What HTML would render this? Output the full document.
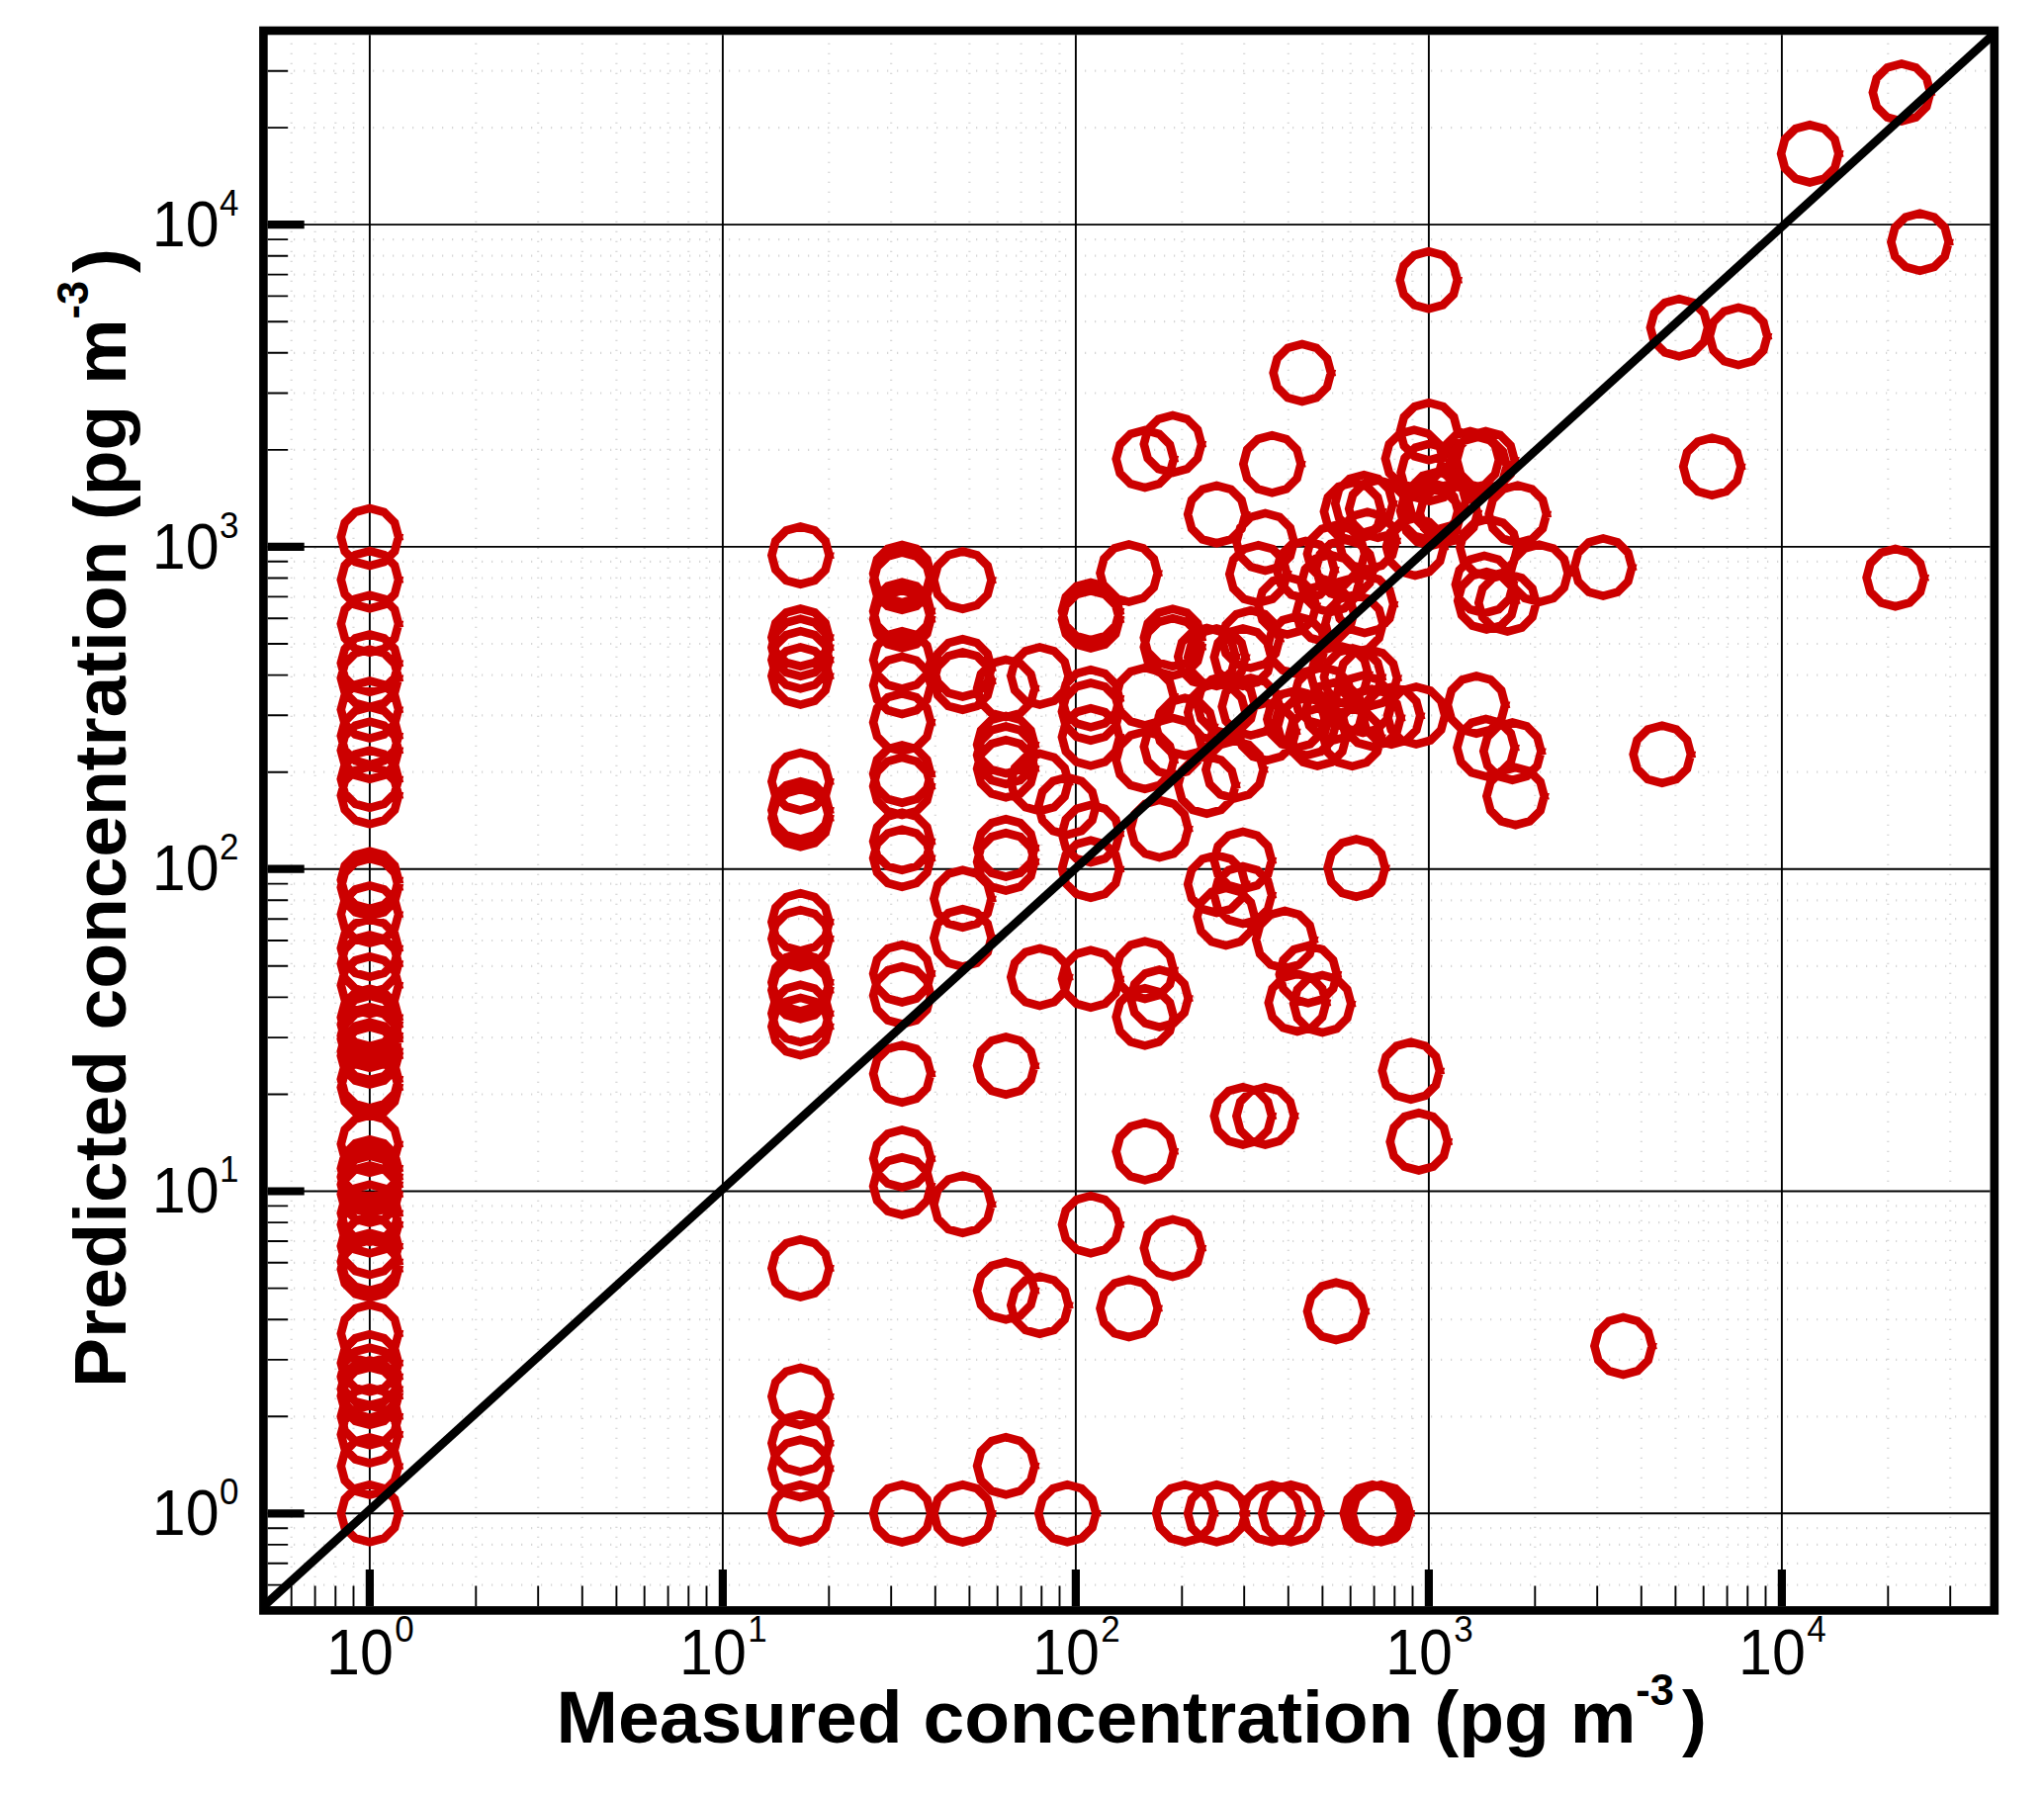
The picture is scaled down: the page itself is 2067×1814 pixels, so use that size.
<!DOCTYPE html>
<html><head><meta charset="utf-8"><title>Measured vs predicted concentration</title>
<style>html,body{margin:0;padding:0;background:#fff}body{width:2067px;height:1814px;overflow:hidden}</style></head>
<body>
<svg width="2067" height="1814" viewBox="0 0 2067 1814" style="display:block">
<rect width="2067" height="1814" fill="#fff"/>
<path d="M294.7 43.8V1602.1M297.2 1602.6H2008.5M318.6 43.8V1602.1M297.2 1580.8H2008.5M339.3 43.8V1602.1M297.2 1561.9H2008.5M357.5 43.8V1602.1M297.2 1545.2H2008.5M481.3 43.8V1602.1M297.2 1432.3H2008.5M544.2 43.8V1602.1M297.2 1374.9H2008.5M588.8 43.8V1602.1M297.2 1334.2H2008.5M623.4 43.8V1602.1M297.2 1302.6H2008.5M651.7 43.8V1602.1M297.2 1276.8H2008.5M675.6 43.8V1602.1M297.2 1255.0H2008.5M696.3 43.8V1602.1M297.2 1236.1H2008.5M714.5 43.8V1602.1M297.2 1219.4H2008.5M838.3 43.8V1602.1M297.2 1106.5H2008.5M901.2 43.8V1602.1M297.2 1049.1H2008.5M945.8 43.8V1602.1M297.2 1008.4H2008.5M980.4 43.8V1602.1M297.2 976.8H2008.5M1008.7 43.8V1602.1M297.2 951.0H2008.5M1032.6 43.8V1602.1M297.2 929.2H2008.5M1053.3 43.8V1602.1M297.2 910.3H2008.5M1071.5 43.8V1602.1M297.2 893.6H2008.5M1195.3 43.8V1602.1M297.2 780.7H2008.5M1258.2 43.8V1602.1M297.2 723.3H2008.5M1302.8 43.8V1602.1M297.2 682.6H2008.5M1337.4 43.8V1602.1M297.2 651.0H2008.5M1365.7 43.8V1602.1M297.2 625.2H2008.5M1389.6 43.8V1602.1M297.2 603.4H2008.5M1410.3 43.8V1602.1M297.2 584.5H2008.5M1428.5 43.8V1602.1M297.2 567.8H2008.5M1552.3 43.8V1602.1M297.2 454.9H2008.5M1615.2 43.8V1602.1M297.2 397.5H2008.5M1659.8 43.8V1602.1M297.2 356.8H2008.5M1694.4 43.8V1602.1M297.2 325.2H2008.5M1722.7 43.8V1602.1M297.2 299.4H2008.5M1746.6 43.8V1602.1M297.2 277.6H2008.5M1767.3 43.8V1602.1M297.2 258.7H2008.5M1785.5 43.8V1602.1M297.2 242.1H2008.5M1909.3 43.8V1602.1M297.2 129.1H2008.5M1972.2 43.8V1602.1M297.2 71.7H2008.5" stroke="#cdcdcd" stroke-width="2.2" stroke-dasharray="1 9" fill="none"/>
<path d="M373.9 35.3V1624.1M270.7 1530.3H2012.5M730.9 35.3V1624.1M270.7 1204.5H2012.5M1087.9 35.3V1624.1M270.7 878.7H2012.5M1444.9 35.3V1624.1M270.7 552.9H2012.5M1801.9 35.3V1624.1M270.7 227.1H2012.5" stroke="#000" stroke-width="1.9" fill="none"/>
<g fill="none" stroke="#cc0000" stroke-width="8.6" stroke-linejoin="miter" stroke-linecap="square">
<path d="M403.0,543.0L399.1,528.5L388.4,517.8L373.9,513.9L359.3,517.8L348.7,528.5L344.8,543.0L348.7,557.5L359.3,568.2L373.9,572.1L388.4,568.2L399.1,557.6L403.0,543.0M403.0,586.2L399.1,571.7L388.4,561.0L373.9,557.1L359.3,561.0L348.7,571.7L344.8,586.2L348.7,600.8L359.3,611.4L373.9,615.3L388.4,611.4L399.1,600.8L403.0,586.2M403.0,630.8L399.1,616.2L388.4,605.6L373.9,601.7L359.3,605.6L348.7,616.2L344.8,630.8L348.7,645.3L359.3,656.0L373.9,659.9L388.4,656.0L399.1,645.4L403.0,630.8M403.0,670.6L399.1,656.1L388.4,645.4L373.9,641.5L359.3,645.4L348.7,656.1L344.8,670.6L348.7,685.1L359.3,695.8L373.9,699.7L388.4,695.8L399.1,685.2L403.0,670.6M403.0,685.7L399.1,671.2L388.4,660.5L373.9,656.6L359.3,660.5L348.7,671.2L344.8,685.7L348.7,700.2L359.3,710.9L373.9,714.8L388.4,710.9L399.1,700.3L403.0,685.7M403.0,717.5L399.1,703.0L388.4,692.3L373.9,688.4L359.3,692.3L348.7,703.0L344.8,717.5L348.7,732.0L359.3,742.7L373.9,746.6L388.4,742.7L399.1,732.1L403.0,717.5M403.0,744.0L399.1,729.5L388.4,718.8L373.9,714.9L359.3,718.8L348.7,729.5L344.8,744.0L348.7,758.5L359.3,769.2L373.9,773.1L388.4,769.2L399.1,758.6L403.0,744.0M403.0,758.8L399.1,744.2L388.4,733.6L373.9,729.7L359.3,733.6L348.7,744.2L344.8,758.8L348.7,773.3L359.3,784.0L373.9,787.9L388.4,784.0L399.1,773.4L403.0,758.8M403.0,787.8L399.1,773.2L388.4,762.6L373.9,758.7L359.3,762.6L348.7,773.2L344.8,787.8L348.7,802.3L359.3,813.0L373.9,816.9L388.4,813.0L399.1,802.4L403.0,787.8M403.0,804.3L399.1,789.8L388.4,779.1L373.9,775.2L359.3,779.1L348.7,789.8L344.8,804.3L348.7,818.8L359.3,829.5L373.9,833.4L388.4,829.5L399.1,818.9L403.0,804.3M403.0,889.7L399.1,875.2L388.4,864.5L373.9,860.6L359.3,864.5L348.7,875.2L344.8,889.7L348.7,904.2L359.3,914.9L373.9,918.8L388.4,914.9L399.1,904.3L403.0,889.7M403.0,897.2L399.1,882.7L388.4,872.0L373.9,868.1L359.3,872.0L348.7,882.7L344.8,897.2L348.7,911.8L359.3,922.4L373.9,926.3L388.4,922.4L399.1,911.8L403.0,897.2M403.0,924.5L399.1,910.0L388.4,899.3L373.9,895.4L359.3,899.3L348.7,910.0L344.8,924.5L348.7,939.0L359.3,949.7L373.9,953.6L388.4,949.7L399.1,939.1L403.0,924.5M403.0,958.8L399.1,944.2L388.4,933.6L373.9,929.7L359.3,933.6L348.7,944.2L344.8,958.8L348.7,973.3L359.3,984.0L373.9,987.9L388.4,984.0L399.1,973.4L403.0,958.8M403.0,974.5L399.1,960.0L388.4,949.3L373.9,945.4L359.3,949.3L348.7,960.0L344.8,974.5L348.7,989.0L359.3,999.7L373.9,1003.6L388.4,999.7L399.1,989.1L403.0,974.5M403.0,996.2L399.1,981.7L388.4,971.0L373.9,967.1L359.3,971.0L348.7,981.7L344.8,996.2L348.7,1010.8L359.3,1021.4L373.9,1025.3L388.4,1021.4L399.1,1010.8L403.0,996.2M403.0,1028.8L399.1,1014.2L388.4,1003.6L373.9,999.7L359.3,1003.6L348.7,1014.2L344.8,1028.8L348.7,1043.3L359.3,1054.0L373.9,1057.9L388.4,1054.0L399.1,1043.3L403.0,1028.8M403.0,1036.0L399.1,1021.5L388.4,1010.8L373.9,1006.9L359.3,1010.8L348.7,1021.5L344.8,1036.0L348.7,1050.5L359.3,1061.2L373.9,1065.1L388.4,1061.2L399.1,1050.5L403.0,1036.0M403.0,1047.2L399.1,1032.7L388.4,1022.0L373.9,1018.1L359.3,1022.0L348.7,1032.7L344.8,1047.2L348.7,1061.8L359.3,1072.4L373.9,1076.3L388.4,1072.4L399.1,1061.8L403.0,1047.2M403.0,1050.6L399.1,1036.0L388.4,1025.4L373.9,1021.5L359.3,1025.4L348.7,1036.0L344.8,1050.6L348.7,1065.1L359.3,1075.8L373.9,1079.7L388.4,1075.8L399.1,1065.1L403.0,1050.6M403.0,1062.9L399.1,1048.4L388.4,1037.7L373.9,1033.8L359.3,1037.7L348.7,1048.4L344.8,1062.9L348.7,1077.5L359.3,1088.1L373.9,1092.0L388.4,1088.1L399.1,1077.5L403.0,1062.9M403.0,1067.5L399.1,1053.0L388.4,1042.3L373.9,1038.4L359.3,1042.3L348.7,1053.0L344.8,1067.5L348.7,1082.0L359.3,1092.7L373.9,1096.6L388.4,1092.7L399.1,1082.0L403.0,1067.5M403.0,1091.2L399.1,1076.7L388.4,1066.0L373.9,1062.1L359.3,1066.0L348.7,1076.7L344.8,1091.2L348.7,1105.8L359.3,1116.4L373.9,1120.3L388.4,1116.4L399.1,1105.8L403.0,1091.2M403.0,1099.4L399.1,1084.9L388.4,1074.2L373.9,1070.3L359.3,1074.2L348.7,1084.9L344.8,1099.4L348.7,1114.0L359.3,1124.6L373.9,1128.5L388.4,1124.6L399.1,1114.0L403.0,1099.4M403.0,1156.8L399.1,1142.2L388.4,1131.6L373.9,1127.7L359.3,1131.6L348.7,1142.2L344.8,1156.8L348.7,1171.3L359.3,1182.0L373.9,1185.9L388.4,1182.0L399.1,1171.3L403.0,1156.8M403.0,1181.4L399.1,1166.9L388.4,1156.2L373.9,1152.3L359.3,1156.2L348.7,1166.9L344.8,1181.4L348.7,1196.0L359.3,1206.6L373.9,1210.5L388.4,1206.6L399.1,1196.0L403.0,1181.4M403.0,1190.0L399.1,1175.5L388.4,1164.8L373.9,1160.9L359.3,1164.8L348.7,1175.5L344.8,1190.0L348.7,1204.5L359.3,1215.2L373.9,1219.1L388.4,1215.2L399.1,1204.5L403.0,1190.0M403.0,1197.7L399.1,1183.2L388.4,1172.5L373.9,1168.6L359.3,1172.5L348.7,1183.2L344.8,1197.7L348.7,1212.2L359.3,1222.9L373.9,1226.8L388.4,1222.9L399.1,1212.2L403.0,1197.7M403.0,1207.5L399.1,1193.0L388.4,1182.3L373.9,1178.4L359.3,1182.3L348.7,1193.0L344.8,1207.5L348.7,1222.0L359.3,1232.7L373.9,1236.6L388.4,1232.7L399.1,1222.0L403.0,1207.5M403.0,1226.7L399.1,1212.2L388.4,1201.5L373.9,1197.6L359.3,1201.5L348.7,1212.2L344.8,1226.7L348.7,1241.2L359.3,1251.9L373.9,1255.8L388.4,1251.9L399.1,1241.2L403.0,1226.7M403.0,1238.3L399.1,1223.8L388.4,1213.1L373.9,1209.2L359.3,1213.1L348.7,1223.8L344.8,1238.3L348.7,1252.8L359.3,1263.5L373.9,1267.4L388.4,1263.5L399.1,1252.8L403.0,1238.3M403.0,1260.0L399.1,1245.5L388.4,1234.8L373.9,1230.9L359.3,1234.8L348.7,1245.5L344.8,1260.0L348.7,1274.5L359.3,1285.2L373.9,1289.1L388.4,1285.2L399.1,1274.5L403.0,1260.0M403.0,1275.7L399.1,1261.2L388.4,1250.5L373.9,1246.6L359.3,1250.5L348.7,1261.2L344.8,1275.7L348.7,1290.2L359.3,1300.9L373.9,1304.8L388.4,1300.9L399.1,1290.2L403.0,1275.7M403.0,1283.2L399.1,1268.7L388.4,1258.0L373.9,1254.1L359.3,1258.0L348.7,1268.7L344.8,1283.2L348.7,1297.8L359.3,1308.4L373.9,1312.3L388.4,1308.4L399.1,1297.8L403.0,1283.2M403.0,1348.4L399.1,1333.9L388.4,1323.2L373.9,1319.3L359.3,1323.2L348.7,1333.9L344.8,1348.4L348.7,1363.0L359.3,1373.6L373.9,1377.5L388.4,1373.6L399.1,1363.0L403.0,1348.4M403.0,1378.3L399.1,1363.8L388.4,1353.1L373.9,1349.2L359.3,1353.1L348.7,1363.8L344.8,1378.3L348.7,1392.8L359.3,1403.5L373.9,1407.4L388.4,1403.5L399.1,1392.8L403.0,1378.3M403.0,1391.9L399.1,1377.4L388.4,1366.7L373.9,1362.8L359.3,1366.7L348.7,1377.4L344.8,1391.9L348.7,1406.5L359.3,1417.1L373.9,1421.0L388.4,1417.1L399.1,1406.5L403.0,1391.9M403.0,1404.5L399.1,1390.0L388.4,1379.3L373.9,1375.4L359.3,1379.3L348.7,1390.0L344.8,1404.5L348.7,1419.0L359.3,1429.7L373.9,1433.6L388.4,1429.7L399.1,1419.0L403.0,1404.5M403.0,1411.6L399.1,1397.0L388.4,1386.4L373.9,1382.5L359.3,1386.4L348.7,1397.0L344.8,1411.6L348.7,1426.1L359.3,1436.8L373.9,1440.7L388.4,1436.8L399.1,1426.1L403.0,1411.6M403.0,1432.3L399.1,1417.8L388.4,1407.1L373.9,1403.2L359.3,1407.1L348.7,1417.8L344.8,1432.3L348.7,1446.8L359.3,1457.5L373.9,1461.4L388.4,1457.5L399.1,1446.8L403.0,1432.3"/>
<path d="M403.0,1450.4L399.1,1435.9L388.4,1425.2L373.9,1421.3L359.3,1425.2L348.7,1435.9L344.8,1450.4L348.7,1465.0L359.3,1475.6L373.9,1479.5L388.4,1475.6L399.1,1465.0L403.0,1450.4M403.0,1482.5L399.1,1468.0L388.4,1457.3L373.9,1453.4L359.3,1457.3L348.7,1468.0L344.8,1482.5L348.7,1497.0L359.3,1507.7L373.9,1511.6L388.4,1507.7L399.1,1497.0L403.0,1482.5M403.0,1530.3L399.1,1515.8L388.4,1505.1L373.9,1501.2L359.3,1505.1L348.7,1515.8L344.8,1530.3L348.7,1544.8L359.3,1555.5L373.9,1559.4L388.4,1555.5L399.1,1544.8L403.0,1530.3M838.6,561.6L834.7,547.1L824.0,536.4L809.5,532.5L795.0,536.4L784.3,547.1L780.4,561.6L784.3,576.1L794.9,586.8L809.5,590.7L824.0,586.8L834.7,576.2L838.6,561.6M838.6,644.6L834.7,630.1L824.0,619.4L809.5,615.5L795.0,619.4L784.3,630.1L780.4,644.6L784.3,659.1L794.9,669.8L809.5,673.7L824.0,669.8L834.7,659.2L838.6,644.6M838.6,654.8L834.7,640.2L824.0,629.6L809.5,625.7L795.0,629.6L784.3,640.2L780.4,654.8L784.3,669.3L794.9,680.0L809.5,683.9L824.0,680.0L834.7,669.4L838.6,654.8M838.6,667.3L834.7,652.8L824.0,642.1L809.5,638.2L795.0,642.1L784.3,652.8L780.4,667.3L784.3,681.8L794.9,692.5L809.5,696.4L824.0,692.5L834.7,681.9L838.6,667.3M838.6,683.5L834.7,669.0L824.0,658.3L809.5,654.4L795.0,658.3L784.3,669.0L780.4,683.5L784.3,698.0L794.9,708.7L809.5,712.6L824.0,708.7L834.7,698.1L838.6,683.5M838.6,790.3L834.7,775.8L824.0,765.1L809.5,761.2L795.0,765.1L784.3,775.8L780.4,790.3L784.3,804.8L794.9,815.5L809.5,819.4L824.0,815.5L834.7,804.9L838.6,790.3M838.6,819.3L834.7,804.8L824.0,794.1L809.5,790.2L795.0,794.1L784.3,804.8L780.4,819.3L784.3,833.8L794.9,844.5L809.5,848.4L824.0,844.5L834.7,833.9L838.6,819.3M838.6,827.3L834.7,812.8L824.0,802.1L809.5,798.2L795.0,802.1L784.3,812.8L780.4,827.3L784.3,841.8L794.9,852.5L809.5,856.4L824.0,852.5L834.7,841.9L838.6,827.3M838.6,932.3L834.7,917.8L824.0,907.1L809.5,903.2L795.0,907.1L784.3,917.8L780.4,932.3L784.3,946.8L794.9,957.5L809.5,961.4L824.0,957.5L834.7,946.9L838.6,932.3M838.6,949.2L834.7,934.7L824.0,924.0L809.5,920.1L795.0,924.0L784.3,934.7L780.4,949.2L784.3,963.8L794.9,974.4L809.5,978.3L824.0,974.4L834.7,963.8L838.6,949.2M838.6,993.2L834.7,978.7L824.0,968.0L809.5,964.1L795.0,968.0L784.3,978.7L780.4,993.2L784.3,1007.8L794.9,1018.4L809.5,1022.3L824.0,1018.4L834.7,1007.8L838.6,993.2M838.6,1001.3L834.7,986.8L824.0,976.1L809.5,972.2L795.0,976.1L784.3,986.8L780.4,1001.3L784.3,1015.8L794.9,1026.5L809.5,1030.4L824.0,1026.5L834.7,1015.9L838.6,1001.3M838.6,1024.8L834.7,1010.2L824.0,999.6L809.5,995.7L795.0,999.6L784.3,1010.2L780.4,1024.8L784.3,1039.3L794.9,1050.0L809.5,1053.9L824.0,1050.0L834.7,1039.3L838.6,1024.8M838.6,1038.0L834.7,1023.5L824.0,1012.8L809.5,1008.9L795.0,1012.8L784.3,1023.5L780.4,1038.0L784.3,1052.5L794.9,1063.2L809.5,1067.1L824.0,1063.2L834.7,1052.5L838.6,1038.0M838.6,1282.4L834.7,1267.9L824.0,1257.2L809.5,1253.3L795.0,1257.2L784.3,1267.9L780.4,1282.4L784.3,1297.0L794.9,1307.6L809.5,1311.5L824.0,1307.6L834.7,1297.0L838.6,1282.4M838.6,1412.0L834.7,1397.5L824.0,1386.8L809.5,1382.9L795.0,1386.8L784.3,1397.5L780.4,1412.0L784.3,1426.5L794.9,1437.2L809.5,1441.1L824.0,1437.2L834.7,1426.5L838.6,1412.0M838.6,1459.3L834.7,1444.8L824.0,1434.1L809.5,1430.2L795.0,1434.1L784.3,1444.8L780.4,1459.3L784.3,1473.8L794.9,1484.5L809.5,1488.4L824.0,1484.5L834.7,1473.8L838.6,1459.3M838.6,1484.9L834.7,1470.4L824.0,1459.7L809.5,1455.8L795.0,1459.7L784.3,1470.4L780.4,1484.9L784.3,1499.5L794.9,1510.1L809.5,1514.0L824.0,1510.1L834.7,1499.5L838.6,1484.9M838.6,1530.4L834.7,1515.9L824.0,1505.2L809.5,1501.3L795.0,1505.2L784.3,1515.9L780.4,1530.4L784.3,1545.0L794.9,1555.6L809.5,1559.5L824.0,1555.6L834.7,1545.0L838.6,1530.4M941.3,580.0L937.4,565.5L926.8,554.8L912.2,550.9L897.7,554.8L887.0,565.5L883.1,580.0L887.0,594.5L897.6,605.2L912.2,609.1L926.8,605.2L937.4,594.6L941.3,580.0M941.3,587.8L937.4,573.2L926.8,562.6L912.2,558.7L897.7,562.6L887.0,573.2L883.1,587.8L887.0,602.3L897.6,613.0L912.2,616.9L926.8,613.0L937.4,602.4L941.3,587.8M941.3,617.9L937.4,603.4L926.8,592.7L912.2,588.8L897.7,592.7L887.0,603.4L883.1,617.9L887.0,632.4L897.6,643.1L912.2,647.0L926.8,643.1L937.4,632.5L941.3,617.9M941.3,626.2L937.4,611.7L926.8,601.0L912.2,597.1L897.7,601.0L887.0,611.7L883.1,626.2L887.0,640.8L897.6,651.4L912.2,655.3L926.8,651.4L937.4,640.8L941.3,626.2M941.3,667.3L937.4,652.8L926.8,642.1L912.2,638.2L897.7,642.1L887.0,652.8L883.1,667.3L887.0,681.8L897.6,692.5L912.2,696.4L926.8,692.5L937.4,681.9L941.3,667.3M941.3,693.0L937.4,678.5L926.8,667.8L912.2,663.9L897.7,667.8L887.0,678.5L883.1,693.0L887.0,707.5L897.6,718.2L912.2,722.1L926.8,718.2L937.4,707.6L941.3,693.0M941.3,730.4L937.4,715.9L926.8,705.2L912.2,701.3L897.7,705.2L887.0,715.9L883.1,730.4L887.0,744.9L897.6,755.6L912.2,759.5L926.8,755.6L937.4,745.0L941.3,730.4M941.3,782.6L937.4,768.1L926.8,757.4L912.2,753.5L897.7,757.4L887.0,768.1L883.1,782.6L887.0,797.1L897.6,807.8L912.2,811.7L926.8,807.8L937.4,797.2L941.3,782.6M941.3,795.0L937.4,780.5L926.8,769.8L912.2,765.9L897.7,769.8L887.0,780.5L883.1,795.0L887.0,809.5L897.6,820.2L912.2,824.1L926.8,820.2L937.4,809.6L941.3,795.0M941.3,850.8L937.4,836.2L926.8,825.6L912.2,821.7L897.7,825.6L887.0,836.2L883.1,850.8L887.0,865.3L897.6,876.0L912.2,879.9L926.8,876.0L937.4,865.4L941.3,850.8M941.3,867.7L937.4,853.2L926.8,842.5L912.2,838.6L897.7,842.5L887.0,853.2L883.1,867.7L887.0,882.2L897.6,892.9L912.2,896.8L926.8,892.9L937.4,882.3L941.3,867.7M941.3,984.4L937.4,969.9L926.8,959.2L912.2,955.3L897.7,959.2L887.0,969.9L883.1,984.4L887.0,998.9L897.6,1009.6L912.2,1013.5L926.8,1009.6L937.4,999.0L941.3,984.4M941.3,1006.4L937.4,991.9L926.8,981.2L912.2,977.3L897.7,981.2L887.0,991.9L883.1,1006.4L887.0,1020.9L897.6,1031.6L912.2,1035.5L926.8,1031.6L937.4,1021.0L941.3,1006.4M941.3,1085.7L937.4,1071.2L926.8,1060.5L912.2,1056.6L897.7,1060.5L887.0,1071.2L883.1,1085.7L887.0,1100.2L897.6,1110.9L912.2,1114.8L926.8,1110.9L937.4,1100.2L941.3,1085.7M941.3,1171.5L937.4,1157.0L926.8,1146.3L912.2,1142.4L897.7,1146.3L887.0,1157.0L883.1,1171.5L887.0,1186.0L897.6,1196.7L912.2,1200.6L926.8,1196.7L937.4,1186.0L941.3,1171.5M941.3,1199.4L937.4,1184.9L926.8,1174.2L912.2,1170.3L897.7,1174.2L887.0,1184.9L883.1,1199.4L887.0,1214.0L897.6,1224.6L912.2,1228.5L926.8,1224.6L937.4,1214.0L941.3,1199.4M941.3,1530.4L937.4,1515.9L926.8,1505.2L912.2,1501.3L897.7,1505.2L887.0,1515.9L883.1,1530.4L887.0,1545.0L897.6,1555.6L912.2,1559.5L926.8,1555.6L937.4,1545.0L941.3,1530.4M1002.6,586.6L998.7,572.1L988.0,561.4L973.5,557.5L959.0,561.4L948.3,572.1L944.4,586.6L948.3,601.1L958.9,611.8L973.5,615.7L988.0,611.8L998.7,601.2L1002.6,586.6"/>
<path d="M1002.6,675.4L998.7,660.9L988.0,650.2L973.5,646.3L959.0,650.2L948.3,660.9L944.4,675.4L948.3,689.9L958.9,700.6L973.5,704.5L988.0,700.6L998.7,690.0L1002.6,675.4M1002.6,688.6L998.7,674.1L988.0,663.4L973.5,659.5L959.0,663.4L948.3,674.1L944.4,688.6L948.3,703.1L958.9,713.8L973.5,717.7L988.0,713.8L998.7,703.2L1002.6,688.6M1002.6,908.8L998.7,894.2L988.0,883.6L973.5,879.7L959.0,883.6L948.3,894.2L944.4,908.8L948.3,923.3L958.9,934.0L973.5,937.9L988.0,934.0L998.7,923.4L1002.6,908.8M1002.6,948.4L998.7,933.9L988.0,923.2L973.5,919.3L959.0,923.2L948.3,933.9L944.4,948.4L948.3,962.9L958.9,973.6L973.5,977.5L988.0,973.6L998.7,963.0L1002.6,948.4M1002.6,1217.8L998.7,1203.2L988.0,1192.6L973.5,1188.7L959.0,1192.6L948.3,1203.2L944.4,1217.8L948.3,1232.3L958.9,1243.0L973.5,1246.9L988.0,1243.0L998.7,1232.3L1002.6,1217.8M1002.6,1530.4L998.7,1515.9L988.0,1505.2L973.5,1501.3L959.0,1505.2L948.3,1515.9L944.4,1530.4L948.3,1545.0L958.9,1555.6L973.5,1559.5L988.0,1555.6L998.7,1545.0L1002.6,1530.4M1046.3,696.0L1042.4,681.5L1031.8,670.8L1017.2,666.9L1002.7,670.8L992.0,681.5L988.1,696.0L992.0,710.5L1002.6,721.2L1017.2,725.1L1031.8,721.2L1042.4,710.6L1046.3,696.0M1046.3,753.0L1042.4,738.5L1031.8,727.8L1017.2,723.9L1002.7,727.8L992.0,738.5L988.1,753.0L992.0,767.5L1002.6,778.2L1017.2,782.1L1031.8,778.2L1042.4,767.6L1046.3,753.0M1046.3,763.6L1042.4,749.1L1031.8,738.4L1017.2,734.5L1002.7,738.4L992.0,749.1L988.1,763.6L992.0,778.1L1002.6,788.8L1017.2,792.7L1031.8,788.8L1042.4,778.2L1046.3,763.6M1046.3,777.3L1042.4,762.8L1031.8,752.1L1017.2,748.2L1002.7,752.1L992.0,762.8L988.1,777.3L992.0,791.8L1002.6,802.5L1017.2,806.4L1031.8,802.5L1042.4,791.9L1046.3,777.3M1046.3,857.4L1042.4,842.9L1031.8,832.2L1017.2,828.3L1002.7,832.2L992.0,842.9L988.1,857.4L992.0,871.9L1002.6,882.6L1017.2,886.5L1031.8,882.6L1042.4,872.0L1046.3,857.4M1046.3,871.4L1042.4,856.9L1031.8,846.2L1017.2,842.3L1002.7,846.2L992.0,856.9L988.1,871.4L992.0,885.9L1002.6,896.6L1017.2,900.5L1031.8,896.6L1042.4,886.0L1046.3,871.4M1046.3,1077.6L1042.4,1063.0L1031.8,1052.4L1017.2,1048.5L1002.7,1052.4L992.0,1063.0L988.1,1077.6L992.0,1092.1L1002.6,1102.8L1017.2,1106.7L1031.8,1102.8L1042.4,1092.1L1046.3,1077.6M1046.3,1305.1L1042.4,1290.5L1031.8,1279.9L1017.2,1276.0L1002.7,1279.9L992.0,1290.5L988.1,1305.1L992.0,1319.6L1002.6,1330.3L1017.2,1334.2L1031.8,1330.3L1042.4,1319.6L1046.3,1305.1M1046.3,1482.2L1042.4,1467.7L1031.8,1457.0L1017.2,1453.1L1002.7,1457.0L992.0,1467.7L988.1,1482.2L992.0,1496.8L1002.6,1507.4L1017.2,1511.3L1031.8,1507.4L1042.4,1496.8L1046.3,1482.2M1080.5,683.5L1076.6,669.0L1066.0,658.3L1051.4,654.4L1036.9,658.3L1026.2,669.0L1022.3,683.5L1026.2,698.0L1036.9,708.7L1051.4,712.6L1066.0,708.7L1076.6,698.1L1080.5,683.5M1080.5,791.0L1076.6,776.5L1066.0,765.8L1051.4,761.9L1036.9,765.8L1026.2,776.5L1022.3,791.0L1026.2,805.5L1036.9,816.2L1051.4,820.1L1066.0,816.2L1076.6,805.6L1080.5,791.0M1080.5,988.0L1076.6,973.5L1066.0,962.8L1051.4,958.9L1036.9,962.8L1026.2,973.5L1022.3,988.0L1026.2,1002.5L1036.9,1013.2L1051.4,1017.1L1066.0,1013.2L1076.6,1002.6L1080.5,988.0M1080.5,1319.8L1076.6,1305.2L1066.0,1294.6L1051.4,1290.7L1036.9,1294.6L1026.2,1305.2L1022.3,1319.8L1026.2,1334.3L1036.9,1345.0L1051.4,1348.9L1066.0,1345.0L1076.6,1334.3L1080.5,1319.8M1108.4,815.0L1104.5,800.5L1093.8,789.8L1079.3,785.9L1064.8,789.8L1054.1,800.5L1050.2,815.0L1054.1,829.5L1064.8,840.2L1079.3,844.1L1093.8,840.2L1104.5,829.6L1108.4,815.0M1108.4,1530.3L1104.5,1515.8L1093.8,1505.1L1079.3,1501.2L1064.8,1505.1L1054.1,1515.8L1050.2,1530.3L1054.1,1544.8L1064.8,1555.5L1079.3,1559.4L1093.8,1555.5L1104.5,1544.8L1108.4,1530.3M1132.1,618.0L1128.2,603.5L1117.5,592.8L1103.0,588.9L1088.5,592.8L1077.8,603.5L1073.9,618.0L1077.8,632.5L1088.5,643.2L1103.0,647.1L1117.5,643.2L1128.2,632.6L1132.1,618.0M1132.1,626.4L1128.2,611.9L1117.5,601.2L1103.0,597.3L1088.5,601.2L1077.8,611.9L1073.9,626.4L1077.8,640.9L1088.5,651.6L1103.0,655.5L1117.5,651.6L1128.2,641.0L1132.1,626.4M1132.1,706.2L1128.2,691.7L1117.5,681.0L1103.0,677.1L1088.5,681.0L1077.8,691.7L1073.9,706.2L1077.8,720.8L1088.5,731.4L1103.0,735.3L1117.5,731.4L1128.2,720.8L1132.1,706.2M1132.1,719.6L1128.2,705.1L1117.5,694.4L1103.0,690.5L1088.5,694.4L1077.8,705.1L1073.9,719.6L1077.8,734.1L1088.5,744.8L1103.0,748.7L1117.5,744.8L1128.2,734.2L1132.1,719.6M1132.1,745.3L1128.2,730.8L1117.5,720.1L1103.0,716.2L1088.5,720.1L1077.8,730.8L1073.9,745.3L1077.8,759.8L1088.5,770.5L1103.0,774.4L1117.5,770.5L1128.2,759.9L1132.1,745.3M1132.1,843.0L1128.2,828.5L1117.5,817.8L1103.0,813.9L1088.5,817.8L1077.8,828.5L1073.9,843.0L1077.8,857.5L1088.5,868.2L1103.0,872.1L1117.5,868.2L1128.2,857.6L1132.1,843.0M1132.1,878.7L1128.2,864.2L1117.5,853.5L1103.0,849.6L1088.5,853.5L1077.8,864.2L1073.9,878.7L1077.8,893.2L1088.5,903.9L1103.0,907.8L1117.5,903.9L1128.2,893.3L1132.1,878.7M1132.1,989.7L1128.2,975.2L1117.5,964.5L1103.0,960.6L1088.5,964.5L1077.8,975.2L1073.9,989.7L1077.8,1004.2L1088.5,1014.9L1103.0,1018.8L1117.5,1014.9L1128.2,1004.3L1132.1,989.7M1132.1,1238.2L1128.2,1223.7L1117.5,1213.0L1103.0,1209.1L1088.5,1213.0L1077.8,1223.7L1073.9,1238.2L1077.8,1252.8L1088.5,1263.4L1103.0,1267.3L1117.5,1263.4L1128.2,1252.8L1132.1,1238.2M1170.7,579.5L1166.8,565.0L1156.1,554.3L1141.6,550.4L1127.0,554.3L1116.4,565.0L1112.5,579.5L1116.4,594.0L1127.0,604.7L1141.6,608.6L1156.1,604.7L1166.8,594.1L1170.7,579.5M1170.7,1322.9L1166.8,1308.4L1156.1,1297.7L1141.6,1293.8L1127.0,1297.7L1116.4,1308.4L1112.5,1322.9L1116.4,1337.5L1127.0,1348.1L1141.6,1352.0L1156.1,1348.1L1166.8,1337.5L1170.7,1322.9M1186.9,464.0L1183.0,449.4L1172.3,438.8L1157.8,434.9L1143.2,438.8L1132.6,449.4L1128.7,464.0L1132.6,478.6L1143.2,489.2L1157.8,493.1L1172.3,489.2L1183.0,478.6L1186.9,464.0M1186.9,704.2L1183.0,689.7L1172.3,679.0L1157.8,675.1L1143.2,679.0L1132.6,689.7L1128.7,704.2L1132.6,718.8L1143.2,729.4L1157.8,733.3L1172.3,729.4L1183.0,718.8L1186.9,704.2M1186.9,768.8L1183.0,754.2L1172.3,743.6L1157.8,739.7L1143.2,743.6L1132.6,754.2L1128.7,768.8L1132.6,783.3L1143.2,794.0L1157.8,797.9L1172.3,794.0L1183.0,783.4L1186.9,768.8M1186.9,980.9L1183.0,966.4L1172.3,955.7L1157.8,951.8L1143.2,955.7L1132.6,966.4L1128.7,980.9L1132.6,995.4L1143.2,1006.1L1157.8,1010.0L1172.3,1006.1L1183.0,995.5L1186.9,980.9M1186.9,1028.2L1183.0,1013.7L1172.3,1003.0L1157.8,999.1L1143.2,1003.0L1132.6,1013.7L1128.7,1028.2L1132.6,1042.8L1143.2,1053.4L1157.8,1057.3L1172.3,1053.4L1183.0,1042.8L1186.9,1028.2M1186.9,1164.3L1183.0,1149.8L1172.3,1139.1L1157.8,1135.2L1143.2,1139.1L1132.6,1149.8L1128.7,1164.3L1132.6,1178.8L1143.2,1189.5L1157.8,1193.4L1172.3,1189.5L1183.0,1178.8L1186.9,1164.3M1201.6,838.0L1197.7,823.5L1187.0,812.8L1172.5,808.9L1158.0,812.8L1147.3,823.5L1143.4,838.0L1147.3,852.5L1158.0,863.2L1172.5,867.1L1187.0,863.2L1197.7,852.6L1201.6,838.0M1201.6,1009.5L1197.7,995.0L1187.0,984.3L1172.5,980.4L1158.0,984.3L1147.3,995.0L1143.4,1009.5L1147.3,1024.0L1158.0,1034.7L1172.5,1038.6L1187.0,1034.7L1197.7,1024.0L1201.6,1009.5"/>
<path d="M1215.0,449.0L1211.1,434.4L1200.5,423.8L1185.9,419.9L1171.4,423.8L1160.7,434.4L1156.8,449.0L1160.7,463.6L1171.4,474.2L1185.9,478.1L1200.5,474.2L1211.1,463.6L1215.0,449.0M1215.0,644.8L1211.1,630.2L1200.5,619.6L1185.9,615.7L1171.4,619.6L1160.7,630.2L1156.8,644.8L1160.7,659.3L1171.4,670.0L1185.9,673.9L1200.5,670.0L1211.1,659.4L1215.0,644.8M1215.0,654.3L1211.1,639.8L1200.5,629.1L1185.9,625.2L1171.4,629.1L1160.7,639.8L1156.8,654.3L1160.7,668.8L1171.4,679.5L1185.9,683.4L1200.5,679.5L1211.1,668.9L1215.0,654.3M1215.0,755.0L1211.1,740.5L1200.5,729.8L1185.9,725.9L1171.4,729.8L1160.7,740.5L1156.8,755.0L1160.7,769.5L1171.4,780.2L1185.9,784.1L1200.5,780.2L1211.1,769.6L1215.0,755.0M1215.0,1262.0L1211.1,1247.5L1200.5,1236.8L1185.9,1232.9L1171.4,1236.8L1160.7,1247.5L1156.8,1262.0L1160.7,1276.5L1171.4,1287.2L1185.9,1291.1L1200.5,1287.2L1211.1,1276.5L1215.0,1262.0M1227.4,1530.3L1223.5,1515.8L1212.8,1505.1L1198.3,1501.2L1183.8,1505.1L1173.1,1515.8L1169.2,1530.3L1173.1,1544.8L1183.8,1555.5L1198.3,1559.4L1212.8,1555.5L1223.5,1544.8L1227.4,1530.3M1249.5,793.8L1245.6,779.2L1235.0,768.6L1220.4,764.7L1205.9,768.6L1195.2,779.2L1191.3,793.8L1195.2,808.3L1205.9,819.0L1220.4,822.9L1235.0,819.0L1245.6,808.4L1249.5,793.8M1259.4,520.1L1255.5,505.6L1244.8,494.9L1230.3,491.0L1215.8,494.9L1205.1,505.6L1201.2,520.1L1205.1,534.6L1215.8,545.3L1230.3,549.2L1244.8,545.3L1255.5,534.7L1259.4,520.1M1259.4,893.9L1255.5,879.4L1244.8,868.7L1230.3,864.8L1215.8,868.7L1205.1,879.4L1201.2,893.9L1205.1,908.4L1215.8,919.1L1230.3,923.0L1244.8,919.1L1255.5,908.5L1259.4,893.9M1259.4,1530.3L1255.5,1515.8L1244.8,1505.1L1230.3,1501.2L1215.8,1505.1L1205.1,1515.8L1201.2,1530.3L1205.1,1544.8L1215.8,1555.5L1230.3,1559.4L1244.8,1555.5L1255.5,1544.8L1259.4,1530.3M1259.4,664.6L1255.5,650.1L1244.8,639.4L1230.3,635.5L1215.8,639.4L1205.1,650.1L1201.2,664.6L1205.1,679.1L1215.8,689.8L1230.3,693.7L1244.8,689.8L1255.5,679.2L1259.4,664.6M1268.8,927.0L1264.9,912.5L1254.2,901.8L1239.7,897.9L1225.2,901.8L1214.5,912.5L1210.6,927.0L1214.5,941.5L1225.2,952.2L1239.7,956.1L1254.2,952.2L1264.9,941.6L1268.8,927.0M1277.6,778.3L1273.7,763.8L1263.0,753.1L1248.5,749.2L1234.0,753.1L1223.3,763.8L1219.4,778.3L1223.3,792.8L1234.0,803.5L1248.5,807.4L1263.0,803.5L1273.7,792.9L1277.6,778.3M1286.0,870.0L1282.1,855.5L1271.5,844.8L1256.9,840.9L1242.4,844.8L1231.7,855.5L1227.8,870.0L1231.7,884.5L1242.4,895.2L1256.9,899.1L1271.5,895.2L1282.1,884.6L1286.0,870.0M1286.0,905.0L1282.1,890.5L1271.5,879.8L1256.9,875.9L1242.4,879.8L1231.7,890.5L1227.8,905.0L1231.7,919.5L1242.4,930.2L1256.9,934.1L1271.5,930.2L1282.1,919.6L1286.0,905.0M1286.0,1128.4L1282.1,1113.9L1271.5,1103.2L1256.9,1099.3L1242.4,1103.2L1231.7,1113.9L1227.8,1128.4L1231.7,1143.0L1242.4,1153.6L1256.9,1157.5L1271.5,1153.6L1282.1,1143.0L1286.0,1128.4M1286.0,664.6L1282.1,650.1L1271.5,639.4L1256.9,635.5L1242.4,639.4L1231.7,650.1L1227.8,664.6L1231.7,679.1L1242.4,689.8L1256.9,693.7L1271.5,689.8L1282.1,679.2L1286.0,664.6M1293.9,646.2L1290.0,631.7L1279.3,621.0L1264.8,617.1L1250.2,621.0L1239.6,631.7L1235.7,646.2L1239.6,660.8L1250.2,671.4L1264.8,675.3L1279.3,671.4L1290.0,660.8L1293.9,646.2M1308.6,548.0L1304.7,533.5L1294.0,522.8L1279.5,518.9L1265.0,522.8L1254.3,533.5L1250.4,548.0L1254.3,562.5L1265.0,573.2L1279.5,577.1L1294.0,573.2L1304.7,562.6L1308.6,548.0M1308.6,1128.4L1304.7,1113.9L1294.0,1103.2L1279.5,1099.3L1265.0,1103.2L1254.3,1113.9L1250.4,1128.4L1254.3,1143.0L1265.0,1153.6L1279.5,1157.5L1294.0,1153.6L1304.7,1143.0L1308.6,1128.4M1301.5,580.4L1297.6,565.9L1287.0,555.2L1272.4,551.3L1257.9,555.2L1247.2,565.9L1243.3,580.4L1247.2,594.9L1257.9,605.6L1272.4,609.5L1287.0,605.6L1297.6,595.0L1301.5,580.4M1315.5,469.2L1311.6,454.6L1301.0,444.0L1286.4,440.1L1271.9,444.0L1261.2,454.6L1257.3,469.2L1261.2,483.8L1271.9,494.4L1286.4,498.3L1301.0,494.4L1311.6,483.8L1315.5,469.2M1315.5,1530.3L1311.6,1515.8L1301.0,1505.1L1286.4,1501.2L1271.9,1505.1L1261.2,1515.8L1257.3,1530.3L1261.2,1544.8L1271.9,1555.5L1286.4,1559.4L1301.0,1555.5L1311.6,1544.8L1315.5,1530.3M1328.4,950.1L1324.5,935.6L1313.8,924.9L1299.3,921.0L1284.8,924.9L1274.1,935.6L1270.2,950.1L1274.1,964.6L1284.8,975.3L1299.3,979.2L1313.8,975.3L1324.5,964.7L1328.4,950.1M1334.5,1530.3L1330.6,1515.8L1320.0,1505.1L1305.4,1501.2L1290.9,1505.1L1280.2,1515.8L1276.3,1530.3L1280.2,1544.8L1290.9,1555.5L1305.4,1559.4L1320.0,1555.5L1330.6,1544.8L1334.5,1530.3M1345.9,377.0L1342.0,362.4L1331.3,351.8L1316.8,347.9L1302.2,351.8L1291.6,362.4L1287.7,377.0L1291.6,391.6L1302.2,402.2L1316.8,406.1L1331.3,402.2L1342.0,391.6L1345.9,377.0M1352.0,985.3L1348.1,970.8L1337.5,960.1L1322.9,956.2L1308.4,960.1L1297.7,970.8L1293.8,985.3L1297.7,999.8L1308.4,1010.5L1322.9,1014.4L1337.5,1010.5L1348.1,999.9L1352.0,985.3M1341.0,1013.9L1337.1,999.4L1326.5,988.7L1311.9,984.8L1297.4,988.7L1286.7,999.4L1282.8,1013.9L1286.7,1028.5L1297.4,1039.1L1311.9,1043.0L1326.5,1039.1L1337.1,1028.5L1341.0,1013.9M1366.3,1015.0L1362.4,1000.5L1351.8,989.8L1337.2,985.9L1322.7,989.8L1312.0,1000.5L1308.1,1015.0L1312.0,1029.5L1322.7,1040.2L1337.2,1044.1L1351.8,1040.2L1362.4,1029.5L1366.3,1015.0M1380.2,1325.9L1376.3,1311.4L1365.6,1300.7L1351.1,1296.8L1336.5,1300.7L1325.9,1311.4L1322.0,1325.9L1325.9,1340.5L1336.5,1351.1L1351.1,1355.0L1365.6,1351.1L1376.3,1340.5L1380.2,1325.9M1400.7,877.6L1396.8,863.1L1386.1,852.4L1371.6,848.5L1357.0,852.4L1346.4,863.1L1342.5,877.6L1346.4,892.1L1357.0,902.8L1371.6,906.7L1386.1,902.8L1396.8,892.2L1400.7,877.6M1417.0,1530.3L1413.1,1515.8L1402.5,1505.1L1387.9,1501.2L1373.4,1505.1L1362.7,1515.8L1358.8,1530.3L1362.7,1544.8L1373.4,1555.5L1387.9,1559.4L1402.5,1555.5L1413.1,1544.8L1417.0,1530.3M1425.8,1530.3L1421.9,1515.8L1411.2,1505.1L1396.7,1501.2L1382.2,1505.1L1371.5,1515.8L1367.6,1530.3L1371.5,1544.8L1382.2,1555.5L1396.7,1559.4L1411.2,1555.5L1421.9,1544.8L1425.8,1530.3M1455.9,1082.8L1452.0,1068.2L1441.3,1057.6L1426.8,1053.7L1412.2,1057.6L1401.6,1068.2L1397.7,1082.8L1401.6,1097.3L1412.2,1108.0L1426.8,1111.9L1441.3,1108.0L1452.0,1097.3L1455.9,1082.8M1463.9,1154.4L1460.0,1139.9L1449.3,1129.2L1434.8,1125.3L1420.2,1129.2L1409.6,1139.9L1405.7,1154.4L1409.6,1169.0L1420.2,1179.6L1434.8,1183.5L1449.3,1179.6L1460.0,1169.0L1463.9,1154.4M1473.8,283.2L1469.9,268.6L1459.2,258.0L1444.7,254.1L1430.2,258.0L1419.5,268.6L1415.6,283.2L1419.5,297.8L1430.2,308.4L1444.7,312.3L1459.2,308.4L1469.9,297.8L1473.8,283.2M1474.1,436.2L1470.2,421.6L1459.5,411.0L1445.0,407.1L1430.5,411.0L1419.8,421.6L1415.9,436.2L1419.8,450.8L1430.5,461.4L1445.0,465.3L1459.5,461.4L1470.2,450.8L1474.1,436.2M1459.1,463.7L1455.2,449.1L1444.5,438.5L1430.0,434.6L1415.5,438.5L1404.8,449.1L1400.9,463.7L1404.8,478.2L1415.5,488.9L1430.0,492.8L1444.5,488.9L1455.2,478.2L1459.1,463.7M1474.8,477.8L1470.9,463.2L1460.2,452.6L1445.7,448.7L1431.2,452.6L1420.5,463.2L1416.6,477.8L1420.5,492.4L1431.2,503.0L1445.7,506.9L1460.2,503.0L1470.9,492.4L1474.8,477.8M1515.8,465.0L1511.9,450.4L1501.2,439.8L1486.7,435.9L1472.2,439.8L1461.5,450.4L1457.6,465.0L1461.5,479.6L1472.2,490.2L1486.7,494.1L1501.2,490.2L1511.9,479.6L1515.8,465.0"/>
<path d="M1531.5,465.0L1527.6,450.4L1517.0,439.8L1502.4,435.9L1487.9,439.8L1477.2,450.4L1473.3,465.0L1477.2,479.6L1487.9,490.2L1502.4,494.1L1517.0,490.2L1527.6,479.6L1531.5,465.0M1523.7,471.0L1519.8,456.4L1509.1,445.8L1494.6,441.9L1480.0,445.8L1469.4,456.4L1465.5,471.0L1469.4,485.6L1480.0,496.2L1494.6,500.1L1509.1,496.2L1519.8,485.6L1523.7,471.0M1563.9,519.8L1560.0,505.2L1549.3,494.6L1534.8,490.7L1520.2,494.6L1509.6,505.2L1505.7,519.8L1509.6,534.3L1520.2,545.0L1534.8,548.9L1549.3,545.0L1560.0,534.4L1563.9,519.8M1585.6,579.7L1581.7,565.2L1571.0,554.5L1556.5,550.6L1542.0,554.5L1531.3,565.2L1527.4,579.7L1531.3,594.2L1542.0,604.9L1556.5,608.8L1571.0,604.9L1581.7,594.3L1585.6,579.7M1534.6,553.7L1530.7,539.2L1520.0,528.5L1505.5,524.6L1491.0,528.5L1480.3,539.2L1476.4,553.7L1480.3,568.2L1491.0,578.9L1505.5,582.8L1520.0,578.9L1530.7,568.3L1534.6,553.7M1530.1,591.0L1526.2,576.5L1515.5,565.8L1501.0,561.9L1486.5,565.8L1475.8,576.5L1471.9,591.0L1475.8,605.5L1486.5,616.2L1501.0,620.1L1515.5,616.2L1526.2,605.6L1530.1,591.0M1532.4,607.4L1528.5,592.9L1517.8,582.2L1503.3,578.3L1488.8,582.2L1478.1,592.9L1474.2,607.4L1478.1,621.9L1488.8,632.6L1503.3,636.5L1517.8,632.6L1528.5,622.0L1532.4,607.4M1553.5,609.5L1549.6,595.0L1539.0,584.3L1524.4,580.4L1509.9,584.3L1499.2,595.0L1495.3,609.5L1499.2,624.0L1509.9,634.7L1524.4,638.6L1539.0,634.7L1549.6,624.1L1553.5,609.5M1650.3,573.5L1646.4,559.0L1635.8,548.3L1621.2,544.4L1606.7,548.3L1596.0,559.0L1592.1,573.5L1596.0,588.0L1606.7,598.7L1621.2,602.6L1635.8,598.7L1646.4,588.1L1650.3,573.5M1727.1,331.2L1723.2,316.6L1712.5,306.0L1698.0,302.1L1683.5,306.0L1672.8,316.6L1668.9,331.2L1672.8,345.8L1683.5,356.4L1698.0,360.3L1712.5,356.4L1723.2,345.8L1727.1,331.2M1787.1,340.0L1783.2,325.4L1772.5,314.8L1758.0,310.9L1743.5,314.8L1732.8,325.4L1728.9,340.0L1732.8,354.6L1743.5,365.2L1758.0,369.1L1772.5,365.2L1783.2,354.6L1787.1,340.0M1760.4,471.8L1756.5,457.2L1745.8,446.6L1731.3,442.7L1716.8,446.6L1706.1,457.2L1702.2,471.8L1706.1,486.4L1716.8,497.0L1731.3,500.9L1745.8,497.0L1756.5,486.4L1760.4,471.8M1859.3,155.4L1855.4,140.8L1844.8,130.2L1830.2,126.3L1815.7,130.2L1805.0,140.8L1801.1,155.4L1805.0,170.0L1815.7,180.6L1830.2,184.5L1844.8,180.6L1855.4,170.0L1859.3,155.4M1952.1,93.5L1948.2,79.0L1937.5,68.3L1923.0,64.4L1908.5,68.3L1897.8,79.0L1893.9,93.5L1897.8,108.1L1908.5,118.7L1923.0,122.6L1937.5,118.7L1948.2,108.1L1952.1,93.5M1970.6,244.7L1966.7,230.1L1956.0,219.5L1941.5,215.6L1927.0,219.5L1916.3,230.1L1912.4,244.7L1916.3,259.2L1927.0,269.9L1941.5,273.8L1956.0,269.9L1966.7,259.2L1970.6,244.7M1945.8,584.1L1941.9,569.6L1931.2,558.9L1916.7,555.0L1902.2,558.9L1891.5,569.6L1887.6,584.1L1891.5,598.6L1902.2,609.3L1916.7,613.2L1931.2,609.3L1941.9,598.7L1945.8,584.1M1709.9,762.8L1706.0,748.2L1695.3,737.6L1680.8,733.7L1666.2,737.6L1655.6,748.2L1651.7,762.8L1655.6,777.3L1666.2,788.0L1680.8,791.9L1695.3,788.0L1706.0,777.4L1709.9,762.8M1522.1,712.6L1518.2,698.1L1507.5,687.4L1493.0,683.5L1478.5,687.4L1467.8,698.1L1463.9,712.6L1467.8,727.1L1478.5,737.8L1493.0,741.7L1507.5,737.8L1518.2,727.2L1522.1,712.6M1531.7,756.0L1527.8,741.5L1517.1,730.8L1502.6,726.9L1488.0,730.8L1477.4,741.5L1473.5,756.0L1477.4,770.5L1488.0,781.2L1502.6,785.1L1517.1,781.2L1527.8,770.6L1531.7,756.0M1558.5,759.6L1554.6,745.1L1544.0,734.4L1529.4,730.5L1514.9,734.4L1504.2,745.1L1500.3,759.6L1504.2,774.1L1514.9,784.8L1529.4,788.7L1544.0,784.8L1554.6,774.2L1558.5,759.6M1561.6,805.1L1557.7,790.6L1547.0,779.9L1532.5,776.0L1518.0,779.9L1507.3,790.6L1503.4,805.1L1507.3,819.6L1518.0,830.3L1532.5,834.2L1547.0,830.3L1557.7,819.7L1561.6,805.1M1461.2,723.5L1457.3,709.0L1446.6,698.3L1432.1,694.4L1417.5,698.3L1406.9,709.0L1403.0,723.5L1406.9,738.0L1417.5,748.7L1432.1,752.6L1446.6,748.7L1457.3,738.1L1461.2,723.5M1436.2,723.7L1432.3,709.2L1421.6,698.5L1407.1,694.6L1392.5,698.5L1381.9,709.2L1378.0,723.7L1381.9,738.2L1392.5,748.9L1407.1,752.8L1421.6,748.9L1432.3,738.3L1436.2,723.7M1416.4,725.9L1412.5,711.4L1401.8,700.7L1387.3,696.8L1372.8,700.7L1362.1,711.4L1358.2,725.9L1362.1,740.4L1372.8,751.1L1387.3,755.0L1401.8,751.1L1412.5,740.5L1416.4,725.9M1412.8,685.5L1408.9,671.0L1398.2,660.3L1383.7,656.4L1369.2,660.3L1358.5,671.0L1354.6,685.5L1358.5,700.0L1369.2,710.7L1383.7,714.6L1398.2,710.7L1408.9,700.1L1412.8,685.5M1397.1,684.6L1393.2,670.1L1382.5,659.4L1368.0,655.5L1353.5,659.4L1342.8,670.1L1338.9,684.6L1342.8,699.1L1353.5,709.8L1368.0,713.7L1382.5,709.8L1393.2,699.2L1397.1,684.6M1396.6,745.7L1392.7,731.2L1382.0,720.5L1367.5,716.6L1353.0,720.5L1342.3,731.2L1338.4,745.7L1342.3,760.2L1353.0,770.9L1367.5,774.8L1382.0,770.9L1392.7,760.3L1396.6,745.7M1361.3,745.5L1357.4,731.0L1346.8,720.3L1332.2,716.4L1317.7,720.3L1307.0,731.0L1303.1,745.5L1307.0,760.0L1317.7,770.7L1332.2,774.6L1346.8,770.7L1357.4,760.1L1361.3,745.5M1670.6,1361.0L1666.7,1346.5L1656.0,1335.8L1641.5,1331.9L1627.0,1335.8L1616.3,1346.5L1612.4,1361.0L1616.3,1375.5L1627.0,1386.2L1641.5,1390.1L1656.0,1386.2L1666.7,1375.5L1670.6,1361.0M1397.1,517.3L1393.2,502.7L1382.5,492.1L1368.0,488.2L1353.5,492.1L1342.8,502.7L1338.9,517.3L1342.8,531.8L1353.5,542.5L1368.0,546.4L1382.5,542.5L1393.2,531.9L1397.1,517.3M1408.4,509.2L1404.5,494.6L1393.8,484.0L1379.3,480.1L1364.8,484.0L1354.1,494.6L1350.2,509.2L1354.1,523.8L1364.8,534.4L1379.3,538.3L1393.8,534.4L1404.5,523.8L1408.4,509.2M1422.4,514.6L1418.5,500.1L1407.8,489.4L1393.3,485.5L1378.8,489.4L1368.1,500.1L1364.2,514.6L1368.1,529.1L1378.8,539.8L1393.3,543.7L1407.8,539.8L1418.5,529.2L1422.4,514.6M1411.9,546.7L1408.0,532.2L1397.3,521.5L1382.8,517.6L1368.2,521.5L1357.6,532.2L1353.7,546.7L1357.6,561.2L1368.2,571.9L1382.8,575.8L1397.3,571.9L1408.0,561.3L1411.9,546.7M1460.1,553.0L1456.2,538.5L1445.5,527.8L1431.0,523.9L1416.5,527.8L1405.8,538.5L1401.9,553.0L1405.8,567.5L1416.5,578.2L1431.0,582.1L1445.5,578.2L1456.2,567.6L1460.1,553.0M1482.2,506.3L1478.3,491.8L1467.6,481.1L1453.1,477.2L1438.5,481.1L1427.9,491.8L1424.0,506.3L1427.9,520.9L1438.5,531.5L1453.1,535.4L1467.6,531.5L1478.3,520.9L1482.2,506.3M1474.3,516.7L1470.4,502.2L1459.8,491.5L1445.2,487.6L1430.7,491.5L1420.0,502.2L1416.1,516.7L1420.0,531.2L1430.7,541.9L1445.2,545.8L1459.8,541.9L1470.4,531.3L1474.3,516.7M1494.1,519.0L1490.2,504.4L1479.5,493.8L1465.0,489.9L1450.5,493.8L1439.8,504.4L1435.9,519.0L1439.8,533.5L1450.5,544.2L1465.0,548.1L1479.5,544.2L1490.2,533.6L1494.1,519.0M1476.5,522.7L1472.6,508.2L1462.0,497.5L1447.4,493.6L1432.9,497.5L1422.2,508.2L1418.3,522.7L1422.2,537.2L1432.9,547.9L1447.4,551.8L1462.0,547.9L1472.6,537.3L1476.5,522.7M1330.9,612.5L1327.0,598.0L1316.3,587.3L1301.8,583.4L1287.2,587.3L1276.6,598.0L1272.7,612.5L1276.6,627.0L1287.2,637.7L1301.8,641.6L1316.3,637.7L1327.0,627.1L1330.9,612.5M1349.4,576.1L1345.5,561.6L1334.8,550.9L1320.3,547.0L1305.8,550.9L1295.1,561.6L1291.2,576.1L1295.1,590.6L1305.8,601.3L1320.3,605.2L1334.8,601.3L1345.5,590.7L1349.4,576.1"/>
<path d="M1340.5,652.4L1336.6,637.9L1326.0,627.2L1311.4,623.3L1296.9,627.2L1286.2,637.9L1282.3,652.4L1286.2,666.9L1296.9,677.6L1311.4,681.5L1326.0,677.6L1336.6,667.0L1340.5,652.4M1374.1,590.0L1370.2,575.5L1359.5,564.8L1345.0,560.9L1330.5,564.8L1319.8,575.5L1315.9,590.0L1319.8,604.5L1330.5,615.2L1345.0,619.1L1359.5,615.2L1370.2,604.6L1374.1,590.0M1380.1,560.0L1376.2,545.5L1365.5,534.8L1351.0,530.9L1336.5,534.8L1325.8,545.5L1321.9,560.0L1325.8,574.5L1336.5,585.2L1351.0,589.1L1365.5,585.2L1376.2,574.6L1380.1,560.0M1389.1,575.0L1385.2,560.5L1374.5,549.8L1360.0,545.9L1345.5,549.8L1334.8,560.5L1330.9,575.0L1334.8,589.5L1345.5,600.2L1360.0,604.1L1374.5,600.2L1385.2,589.6L1389.1,575.0M1409.1,611.0L1405.2,596.5L1394.5,585.8L1380.0,581.9L1365.5,585.8L1354.8,596.5L1350.9,611.0L1354.8,625.5L1365.5,636.2L1380.0,640.1L1394.5,636.2L1405.2,625.6L1409.1,611.0M1369.1,620.0L1365.2,605.5L1354.5,594.8L1340.0,590.9L1325.5,594.8L1314.8,605.5L1310.9,620.0L1314.8,634.5L1325.5,645.2L1340.0,649.1L1354.5,645.2L1365.2,634.6L1369.1,620.0M1398.5,630.7L1394.6,616.2L1384.0,605.5L1369.4,601.6L1354.9,605.5L1344.2,616.2L1340.3,630.7L1344.2,645.2L1354.9,655.9L1369.4,659.8L1384.0,655.9L1394.6,645.3L1398.5,630.7M1249.5,664.0L1245.6,649.5L1235.0,638.8L1220.4,634.9L1205.9,638.8L1195.2,649.5L1191.3,664.0L1195.2,678.5L1205.9,689.2L1220.4,693.1L1235.0,689.2L1245.6,678.6L1249.5,664.0M1227.4,734.9L1223.5,720.4L1212.8,709.7L1198.3,705.8L1183.8,709.7L1173.1,720.4L1169.2,734.9L1173.1,749.4L1183.8,760.1L1198.3,764.0L1212.8,760.1L1223.5,749.5L1227.4,734.9M1259.5,720.3L1255.6,705.8L1245.0,695.1L1230.4,691.2L1215.9,695.1L1205.2,705.8L1201.3,720.3L1205.2,734.8L1215.9,745.5L1230.4,749.4L1245.0,745.5L1255.6,734.9L1259.5,720.3M1268.8,712.3L1264.9,697.8L1254.2,687.1L1239.7,683.2L1225.2,687.1L1214.5,697.8L1210.6,712.3L1214.5,726.8L1225.2,737.5L1239.7,741.4L1254.2,737.5L1264.9,726.9L1268.8,712.3M1293.9,714.5L1290.0,700.0L1279.3,689.3L1264.8,685.4L1250.2,689.3L1239.6,700.0L1235.7,714.5L1239.6,729.0L1250.2,739.7L1264.8,743.6L1279.3,739.7L1290.0,729.1L1293.9,714.5M1310.4,739.7L1306.5,725.2L1295.8,714.5L1281.3,710.6L1266.8,714.5L1256.1,725.2L1252.2,739.7L1256.1,754.2L1266.8,764.9L1281.3,768.8L1295.8,764.9L1306.5,754.3L1310.4,739.7M1378.3,719.2L1374.4,704.7L1363.8,694.0L1349.2,690.1L1334.7,694.0L1324.0,704.7L1320.1,719.2L1324.0,733.8L1334.7,744.4L1349.2,748.3L1363.8,744.4L1374.4,733.8L1378.3,719.2M1339.6,727.2L1335.7,712.7L1325.0,702.0L1310.5,698.1L1296.0,702.0L1285.3,712.7L1281.4,727.2L1285.3,741.8L1296.0,752.4L1310.5,756.3L1325.0,752.4L1335.7,741.8L1339.6,727.2M1350.3,734.7L1346.4,720.2L1335.8,709.5L1321.2,705.6L1306.7,709.5L1296.0,720.2L1292.1,734.7L1296.0,749.2L1306.7,759.9L1321.2,763.8L1335.8,759.9L1346.4,749.3L1350.3,734.7M1367.1,703.8L1363.2,689.2L1352.5,678.6L1338.0,674.7L1323.5,678.6L1312.8,689.2L1308.9,703.8L1312.8,718.3L1323.5,729.0L1338.0,732.9L1352.5,729.0L1363.2,718.4L1367.1,703.8M1383.7,682.0L1379.8,667.5L1369.1,656.8L1354.6,652.9L1340.0,656.8L1329.4,667.5L1325.5,682.0L1329.4,696.5L1340.0,707.2L1354.6,711.1L1369.1,707.2L1379.8,696.6L1383.7,682.0M1407.4,712.0L1403.5,697.5L1392.8,686.8L1378.3,682.9L1363.8,686.8L1353.1,697.5L1349.2,712.0L1353.1,726.5L1363.8,737.2L1378.3,741.1L1392.8,737.2L1403.5,726.6L1407.4,712.0"/>
</g>
<path d="M266.4 1624.2L2016.8 34.0" stroke="#000" stroke-width="8.6" fill="none"/>
<path d="M294.7 1624.1v-20.5M270.7 1602.6h20.5M318.6 1624.1v-20.5M270.7 1580.8h20.5M339.3 1624.1v-20.5M270.7 1561.9h20.5M357.5 1624.1v-20.5M270.7 1545.2h20.5M481.3 1624.1v-20.5M270.7 1432.3h20.5M544.2 1624.1v-20.5M270.7 1374.9h20.5M588.8 1624.1v-20.5M270.7 1334.2h20.5M623.4 1624.1v-20.5M270.7 1302.6h20.5M651.7 1624.1v-20.5M270.7 1276.8h20.5M675.6 1624.1v-20.5M270.7 1255.0h20.5M696.3 1624.1v-20.5M270.7 1236.1h20.5M714.5 1624.1v-20.5M270.7 1219.4h20.5M838.3 1624.1v-20.5M270.7 1106.5h20.5M901.2 1624.1v-20.5M270.7 1049.1h20.5M945.8 1624.1v-20.5M270.7 1008.4h20.5M980.4 1624.1v-20.5M270.7 976.8h20.5M1008.7 1624.1v-20.5M270.7 951.0h20.5M1032.6 1624.1v-20.5M270.7 929.2h20.5M1053.3 1624.1v-20.5M270.7 910.3h20.5M1071.5 1624.1v-20.5M270.7 893.6h20.5M1195.3 1624.1v-20.5M270.7 780.7h20.5M1258.2 1624.1v-20.5M270.7 723.3h20.5M1302.8 1624.1v-20.5M270.7 682.6h20.5M1337.4 1624.1v-20.5M270.7 651.0h20.5M1365.7 1624.1v-20.5M270.7 625.2h20.5M1389.6 1624.1v-20.5M270.7 603.4h20.5M1410.3 1624.1v-20.5M270.7 584.5h20.5M1428.5 1624.1v-20.5M270.7 567.8h20.5M1552.3 1624.1v-20.5M270.7 454.9h20.5M1615.2 1624.1v-20.5M270.7 397.5h20.5M1659.8 1624.1v-20.5M270.7 356.8h20.5M1694.4 1624.1v-20.5M270.7 325.2h20.5M1722.7 1624.1v-20.5M270.7 299.4h20.5M1746.6 1624.1v-20.5M270.7 277.6h20.5M1767.3 1624.1v-20.5M270.7 258.7h20.5M1785.5 1624.1v-20.5M270.7 242.1h20.5M1909.3 1624.1v-20.5M270.7 129.1h20.5M1972.2 1624.1v-20.5M270.7 71.7h20.5" stroke="#000" stroke-width="1.9" fill="none"/>
<path d="M373.9 1624.1v-37M270.7 1530.3h37M730.9 1624.1v-37M270.7 1204.5h37M1087.9 1624.1v-37M270.7 878.7h37M1444.9 1624.1v-37M270.7 552.9h37M1801.9 1624.1v-37M270.7 227.1h37" stroke="#000" stroke-width="8.2" fill="none"/>
<rect x="266.4" y="31.0" width="1750.4" height="1597.4" fill="none" stroke="#000" stroke-width="8.6"/>
<g font-family="'Liberation Sans', sans-serif" fill="#000">
<text transform="translate(330.1 1692.5) scale(1 1.063)" font-size="61">10<tspan font-size="35" dy="-30.7" dx="1.2">0</tspan></text>
<text transform="translate(153.8 1552.0) scale(1 1.063)" font-size="61">10<tspan font-size="35" dy="-29.2" dx="0.4">0</tspan></text>
<text transform="translate(687.1 1692.5) scale(1 1.063)" font-size="61">10<tspan font-size="35" dy="-30.7" dx="1.2">1</tspan></text>
<text transform="translate(153.8 1226.2) scale(1 1.063)" font-size="61">10<tspan font-size="35" dy="-29.2" dx="0.4">1</tspan></text>
<text transform="translate(1044.1 1692.5) scale(1 1.063)" font-size="61">10<tspan font-size="35" dy="-30.7" dx="1.2">2</tspan></text>
<text transform="translate(153.8 900.4) scale(1 1.063)" font-size="61">10<tspan font-size="35" dy="-29.2" dx="0.4">2</tspan></text>
<text transform="translate(1401.1 1692.5) scale(1 1.063)" font-size="61">10<tspan font-size="35" dy="-30.7" dx="1.2">3</tspan></text>
<text transform="translate(153.8 574.6) scale(1 1.063)" font-size="61">10<tspan font-size="35" dy="-29.2" dx="0.4">3</tspan></text>
<text transform="translate(1758.1 1692.5) scale(1 1.063)" font-size="61">10<tspan font-size="35" dy="-30.7" dx="1.2">4</tspan></text>
<text transform="translate(153.8 248.8) scale(1 1.063)" font-size="61">10<tspan font-size="35" dy="-29.2" dx="0.4">4</tspan></text>
</g>
<g font-family="'Liberation Sans', sans-serif" font-weight="bold" fill="#000" font-size="75">
<text id="xt" x="562.5" y="1762">Measured concentration (pg m<tspan font-size="43.5" dy="-38">-3</tspan><tspan dy="38" dx="8">)</tspan></text>
<text id="yt" letter-spacing="-0.1" transform="translate(126.6 1403) rotate(-90)">Predicted concentration (pg m<tspan font-size="43.5" dy="-38">-3</tspan><tspan dy="38" dx="8">)</tspan></text>
</g>
</svg>
</body></html>
